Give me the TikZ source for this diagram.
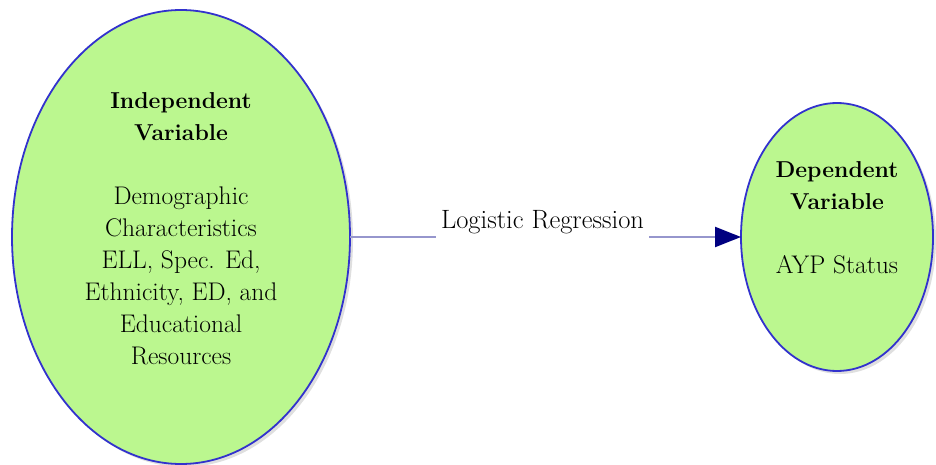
\documentclass[tikz,border=0pt]{standalone}
\usetikzlibrary{arrows.meta,shapes.geometric,shadows}
\definecolor{fillg}{RGB}{187,247,143}
\definecolor{edgeb}{RGB}{50,50,205}
\definecolor{linec}{RGB}{150,150,205}
\definecolor{tipc}{RGB}{0,0,128}
\newcommand{\hdr}[1]{{\fontsize{23}{32}\selectfont\bfseries #1}}
\begin{document}
\begin{tikzpicture}[x=1pt,y=-1pt,
  varell/.style={ellipse, draw=edgeb, fill=fillg, line width=1.8pt, inner sep=0pt, outer sep=0pt,
    drop shadow={opacity=0.25, shadow xshift=3pt, shadow yshift=-3pt}},
  vartext/.style={align=center, inner sep=0pt, font=\fontsize{25.5}{32}\selectfont},
  conn/.style={draw=linec, line width=2.2pt}]
\useasboundingbox (0,0) rectangle (936,465);
\node[varell, minimum width=338pt, minimum height=454pt] (iv) at (181,237) {};
\node[varell, minimum width=192pt, minimum height=268pt] (dv) at (837,237) {};
\node[vartext] (ivt) at (181,229) {\hdr{Independent}\\\hdr{Variable}\\[32pt]Demographic\\Characteristics\\ELL, Spec. Ed,\\Ethnicity, ED, and\\Educational\\Resources};
\node[vartext] (dvt) at (837,218) {\hdr{Dependent}\\\hdr{Variable}\\[32pt]AYP Status};
\node[font=\fontsize{26.5}{32}\selectfont, inner xsep=5pt, inner ysep=0pt] (lbl) at (542.5,222) {Logistic Regression};
\draw[conn] (iv.east) -- (iv.east -| lbl.west);
\draw[conn, -{Triangle[length=26pt,width=20pt,color=tipc]}] (dv.west -| lbl.east) -- (dv.west);
\end{tikzpicture}
\end{document}
